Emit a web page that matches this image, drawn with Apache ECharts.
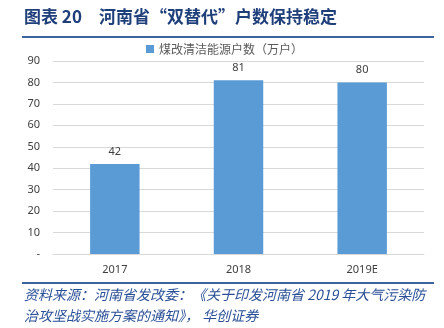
<!DOCTYPE html>
<html>
<head>
<meta charset="utf-8">
<script src="https://cdn.jsdelivr.net/npm/echarts@6/dist/echarts.min.js"></script>
<style>
  html, body { margin: 0; padding: 0; background: #fff; }
  #chart { width: 444px; height: 328px; }
</style>
</head>
<body>
<div id="chart"></div>
<script>
// Households switched from coal to clean energy in Henan (10k households)
const categories = ['2017', '2018', '2019E'];
const households = [42, 81, 80];
const seriesName = '煤改清洁能源户数（万户）';
const titleNumber = '图表 20';
const titleText = '河南省“双替代”户数保持稳定';
const sourceLine1 = '资料来源：河南省发改委：《关于印发河南省 2019 年大气污染防';
const sourceLine2 = '治攻坚战实施方案的通知》， 华创证券';

const navy = '#1f3f7a';
const ruleBlue = '#3d62a0';
const textGray = '#404040';

const chart = echarts.init(document.getElementById('chart'), null, { renderer: 'canvas' });
chart.setOption({
  backgroundColor: '#fff',
  animation: false,
  grid: { left: 53, right: 20, top: 61, bottom: 74 },
  legend: {
    data: [seriesName],
    top: 38,
    left: 141,
    itemWidth: 8,
    itemHeight: 8,
    itemGap: 4,
    icon: 'rect',
    textStyle: { fontSize: 12, color: '#595959', fontFamily: 'Noto Sans CJK SC' }
  },
  xAxis: {
    type: 'category',
    data: categories,
    axisLine: { show: true, lineStyle: { color: '#d9d9d9', width: 1 } },
    axisTick: { show: false },
    axisLabel: { fontSize: 11, color: textGray, margin: 10, fontFamily: 'Noto Sans' }
  },
  yAxis: {
    type: 'value',
    min: 0,
    max: 90,
    interval: 10,
    axisLine: { show: false },
    axisTick: { show: false },
    splitLine: { lineStyle: { color: '#d9d9d9', width: 1 } },
    axisLabel: {
      fontSize: 11, color: textGray, margin: 13, fontFamily: 'Noto Sans',
      formatter: v => (v === 0 ? '-' : String(v))
    }
  },
  series: [{
    name: seriesName,
    type: 'bar',
    data: households,
    barWidth: '40%',
    itemStyle: { color: '#5b9bd5' },
    label: {
      show: true, position: 'top', distance: 7,
      fontSize: 11, color: textGray, fontFamily: 'Noto Sans'
    }
  }],
  graphic: [
    {
      type: 'text', left: 24, top: 8,
      style: { text: titleNumber, fill: navy, font: 'bold 17px "Noto Sans CJK SC"' }
    },
    {
      type: 'text', left: 99, top: 8,
      style: { text: titleText, fill: navy, font: 'bold 17px "Noto Sans CJK SC"' }
    },
    {
      type: 'rect', shape: { x: 22, y: 36, width: 412, height: 2 },
      style: { fill: ruleBlue }
    },
    {
      type: 'rect', shape: { x: 22, y: 282, width: 412, height: 2 },
      style: { fill: ruleBlue }
    },
    {
      type: 'text', left: 24, top: 288,
      style: { text: sourceLine1, fill: '#2a4f96', font: 'italic 14px "Noto Sans CJK SC"' }
    },
    {
      type: 'text', left: 24, top: 309,
      style: { text: sourceLine2, fill: '#2a4f96', font: 'italic 14px "Noto Sans CJK SC"' }
    }
  ]
});
</script>
</body>
</html>
